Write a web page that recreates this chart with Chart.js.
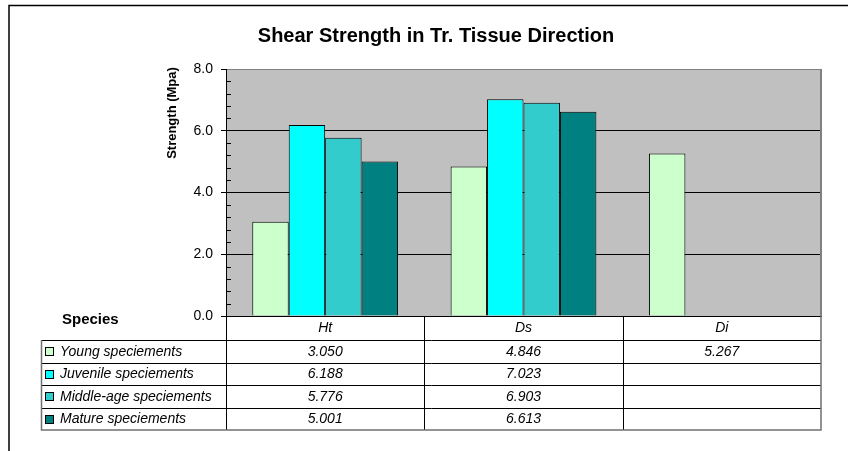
<!DOCTYPE html>
<html>
<head>
<meta charset="utf-8">
<script src="https://cdn.jsdelivr.net/npm/chart.js@4.4.1/dist/chart.umd.min.js"></script>
<style>
  html, body { margin: 0; padding: 0; background: #fff; }
</style>
</head>
<body>
<canvas id="shearChart" width="848" height="451"></canvas>
<script>
// ── Data ─────────────────────────────────────────────────────
const species  = ['Ht', 'Ds', 'Di'];
const young    = [3.050, 4.846, 5.267];
const juvenile = [6.188, 7.023, null];
const middle   = [5.776, 6.903, null];
const mature   = [5.001, 6.613, null];

const seriesNames = ['Young speciements', 'Juvenile speciements', 'Middle-age speciements', 'Mature speciements'];
const seriesData  = [young, juvenile, middle, mature];

// ── Style ────────────────────────────────────────────────────
const seriesColors = ['#ccffcc', '#00ffff', '#33cccc', '#008080'];
const FONT = "'Liberation Sans', Arial, sans-serif";

// plot background, title, axis title, minor ticks and the data table
const sheetPlugin = {
    id: 'sheet',
    beforeDraw(chart) {
        const { ctx, chartArea: a } = chart;
        ctx.save();
        ctx.fillStyle = '#c0c0c0';
        ctx.fillRect(a.left, a.top, a.right - a.left, a.bottom - a.top);
        ctx.restore();
    },
    afterDraw(chart) {
        const { ctx, chartArea: a } = chart;
        const xs = chart.scales.x, ys = chart.scales.y;
        ctx.save();

        // outer frame (top + left)
        ctx.strokeStyle = '#000';
        ctx.lineWidth = 1.5;
        ctx.beginPath();
        ctx.moveTo(9, 451); ctx.lineTo(9, 5.5); ctx.lineTo(848, 5.5);
        ctx.stroke();

        // right edge of the plot
        ctx.strokeStyle = '#808080';
        ctx.lineWidth = 2;
        ctx.beginPath();
        ctx.moveTo(a.right, a.top); ctx.lineTo(a.right, a.bottom);
        ctx.stroke();

        // title
        ctx.fillStyle = '#000';
        ctx.font = `bold 20px ${FONT}`;
        ctx.textAlign = 'center';
        ctx.textBaseline = 'alphabetic';
        ctx.fillText('Shear Strength in Tr. Tissue Direction', 436, 42);

        // y axis title
        ctx.save();
        ctx.translate(172, 113);
        ctx.rotate(-Math.PI / 2);
        ctx.font = `bold 13px ${FONT}`;
        ctx.textBaseline = 'middle';
        ctx.fillText('Strength (Mpa)', 0, 0);
        ctx.restore();

        // minor ticks, inside the plot
        ctx.strokeStyle = '#000';
        ctx.lineWidth = 1;
        ctx.beginPath();
        for (let k = 1; k < 20; k++) {
            if (k % 5 === 0) continue;
            const py = Math.round(ys.getPixelForValue(k * 0.4)) + 0.5;
            ctx.moveTo(a.left, py); ctx.lineTo(a.left + 5, py);
        }
        ctx.stroke();

        // ── data table ──
        const edges = [a.left];
        for (let i = 0; i < species.length - 1; i++) {
            edges.push((xs.getPixelForValue(i) + xs.getPixelForValue(i + 1)) / 2);
        }
        edges.push(a.right);

        const headBottom = a.bottom + 24;
        const rowH = 22.5;
        const tableLeft = 41.5;
        const tableBottom = headBottom + rowH * seriesNames.length;

        ctx.strokeStyle = '#000';
        ctx.lineWidth = 1;
        ctx.beginPath();
        for (let r = 0; r < seriesNames.length; r++) {
            const ly = Math.round(headBottom + r * rowH) + 0.5;
            ctx.moveTo(tableLeft, ly); ctx.lineTo(a.right, ly);
        }
        edges.slice(0, -1).forEach(ex => {
            const lx = Math.round(ex) + 0.5;
            ctx.moveTo(lx, a.bottom); ctx.lineTo(lx, tableBottom);
        });
        ctx.stroke();

        ctx.strokeStyle = '#707070';
        ctx.lineWidth = 1.5;
        ctx.beginPath();
        ctx.moveTo(tableLeft, headBottom); ctx.lineTo(tableLeft, tableBottom);
        ctx.lineTo(a.right, tableBottom); ctx.lineTo(a.right, a.bottom);
        ctx.stroke();

        // category names
        ctx.fillStyle = '#000';
        ctx.font = `italic 14px ${FONT}`;
        ctx.textAlign = 'center';
        ctx.textBaseline = 'middle';
        species.forEach((s, i) => ctx.fillText(s, xs.getPixelForValue(i), a.bottom + 12.5));

        ctx.font = `bold 15px ${FONT}`;
        ctx.textAlign = 'left';
        ctx.fillText('Species', 62, 320);

        seriesNames.forEach((name, r) => {
            const cy = headBottom + r * rowH + rowH / 2;
            ctx.fillStyle = seriesColors[r];
            ctx.fillRect(46, Math.round(cy) - 3, 7, 7);
            ctx.strokeStyle = '#000';
            ctx.lineWidth = 1;
            ctx.strokeRect(45.5, Math.round(cy) - 3.5, 8, 8);

            ctx.fillStyle = '#000';
            ctx.font = `italic 14px ${FONT}`;
            ctx.textAlign = 'left';
            ctx.fillText(name, 60, cy + 0.5);

            ctx.textAlign = 'center';
            seriesData[r].forEach((v, i) => {
                if (v === null) return;
                ctx.fillText(v.toFixed(3), xs.getPixelForValue(i), cy + 0.5);
            });
        });

        ctx.restore();
    }
};

// ── Chart setup ──────────────────────────────────────────────
const ctx = document.getElementById('shearChart').getContext('2d');

new Chart(ctx, {
    type: 'bar',
    data: {
        labels: species,
        datasets: seriesNames.map((name, i) => ({
            label: name,
            data: seriesData[i],
            backgroundColor: seriesColors[i],
            borderColor: '#000',
            borderWidth: 1,
            categoryPercentage: 0.735,
            barPercentage: 1,
        })),
    },
    options: {
        responsive: false,
        animation: false,
        layout: { padding: { top: 69, right: 27, left: 0, bottom: 0 } },
        plugins: {
            legend: { display: false },
            title: { display: false },
            tooltip: { enabled: false },
        },
        scales: {
            x: {
                grid: { display: false },
                ticks: { display: false },
                border: { color: '#000', width: 1 },
                afterFit(s) { s.height = 135; },
            },
            y: {
                min: 0,
                max: 8,
                ticks: {
                    stepSize: 2,
                    callback: v => v.toFixed(1),
                    color: '#000',
                    font: { family: FONT, size: 14 },
                    padding: 8,
                },
                grid: {
                    color: c => (c.tick && c.tick.value === 8 ? '#808080' : '#000'),
                    tickColor: '#000',
                    tickLength: 5,
                    lineWidth: 1,
                },
                border: { color: '#000', width: 1 },
                afterFit(s) { s.width = 226; },
            },
        },
    },
    plugins: [sheetPlugin],
});
</script>
</body>
</html>
